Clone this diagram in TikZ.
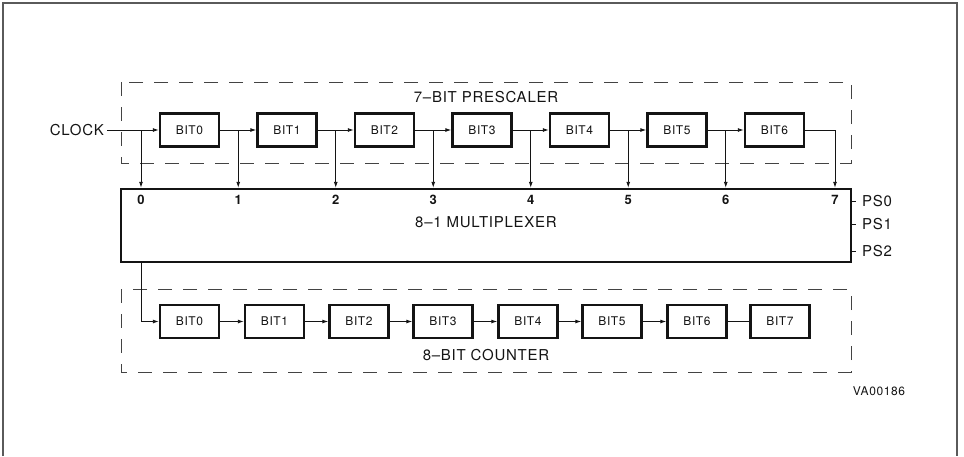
\documentclass[tikz,border=0pt]{standalone}
\usepackage{fontspec}
\setmainfont{TeX Gyre Heros}[LetterSpace=5]
\usetikzlibrary{arrows.meta,calc}
\definecolor{ink}{RGB}{20,20,20}
\definecolor{frame}{RGB}{90,90,90}

\begin{document}
\begin{tikzpicture}[
  x=1pt, y=-1pt,
  bitbox/.style={
    draw=ink, line width=2.4pt, fill=white,
    minimum width=59pt, minimum height=33pt, inner sep=0pt,
    font=\fontsize{12}{14}\selectfont, text=ink
  },
  muxbox/.style={
    draw=ink, line width=2.4pt,
    minimum width=730pt, minimum height=73pt, inner sep=0pt
  },
  group/.style={draw=ink!80, line width=0.9pt, dash pattern=on 14pt off 11pt},
  title/.style={font=\fontsize{15}{17}\selectfont, text=ink},
  muxin/.style={font=\bfseries\fontsize{13}{15}\selectfont, text=ink, inner sep=0pt},
  sel/.style={anchor=west, font=\fontsize{15}{17}\selectfont, text=ink, inner sep=0pt, xshift=9pt},
  wire/.style={draw=ink, line width=0.9pt},
  feed/.style={wire, -{Latex[length=6pt,width=4pt]}}
]
\useasboundingbox (0,0) rectangle (964,456);

% Page frame (bottom edge falls outside the scan).
\draw[frame, line width=1.2pt] (3,456) -- (3,3) -- (957,3) -- (957,456);

% Dashed group outlines.
\draw[group] (121,82) rectangle (851,163);
\draw[group] (121,289) rectangle (851,372);
\node[title] (prelabel) at (486,97) {7--BIT PRESCALER};
\node[title] (cntlabel) at (486,355) {8--BIT COUNTER};

% Prescaler chain.
\node[font=\fontsize{15}{17}\selectfont, text=ink, anchor=east, inner sep=0pt]
  (clock) at (104,130) {CLOCK};
\node[bitbox] (p0) at (189.5,130) {BIT0};
\node[bitbox] (p1) at (287,130) {BIT1};
\node[bitbox] (p2) at (384.5,130) {BIT2};
\node[bitbox] (p3) at (482,130) {BIT3};
\node[bitbox] (p4) at (579.5,130) {BIT4};
\node[bitbox] (p5) at (677,130) {BIT5};
\node[bitbox] (p6) at (774.5,130) {BIT6};

% Multiplexer.
\node[muxbox] (mux) at (486,225.5) {};
\node[font=\fontsize{15}{17}\selectfont, text=ink] (muxlabel) at (486,222) {8--1 MULTIPLEXER};

% Tap points feeding the multiplexer inputs.
\coordinate (t0) at (141,130);
\coordinate (t1) at ($(p0.east)!0.5!(p1.west)$);
\coordinate (t2) at ($(p1.east)!0.5!(p2.west)$);
\coordinate (t3) at ($(p2.east)!0.5!(p3.west)$);
\coordinate (t4) at ($(p3.east)!0.5!(p4.west)$);
\coordinate (t5) at ($(p4.east)!0.5!(p5.west)$);
\coordinate (t6) at ($(p5.east)!0.5!(p6.west)$);
\coordinate (t7) at (835,130);

\draw[wire] ([xshift=3pt]clock.east) -- (t0);
\draw[feed] (t0) -- (p0.west);
\draw[feed] (p0.east) -- (p1.west);
\draw[feed] (p1.east) -- (p2.west);
\draw[feed] (p2.east) -- (p3.west);
\draw[feed] (p3.east) -- (p4.west);
\draw[feed] (p4.east) -- (p5.west);
\draw[feed] (p5.east) -- (p6.west);
\draw[feed] (p6.east) -| (t7 |- mux.north);

\draw[feed] (t0) -- (t0 |- mux.north);
\draw[feed] (t1) -- (t1 |- mux.north);
\draw[feed] (t2) -- (t2 |- mux.north);
\draw[feed] (t3) -- (t3 |- mux.north);
\draw[feed] (t4) -- (t4 |- mux.north);
\draw[feed] (t5) -- (t5 |- mux.north);
\draw[feed] (t6) -- (t6 |- mux.north);

\node[muxin] (m0) at ($(t0 |- mux.north)+(0,12)$) {0};
\node[muxin] (m1) at ($(t1 |- mux.north)+(0,12)$) {1};
\node[muxin] (m2) at ($(t2 |- mux.north)+(0,12)$) {2};
\node[muxin] (m3) at ($(t3 |- mux.north)+(0,12)$) {3};
\node[muxin] (m4) at ($(t4 |- mux.north)+(0,12)$) {4};
\node[muxin] (m5) at ($(t5 |- mux.north)+(0,12)$) {5};
\node[muxin] (m6) at ($(t6 |- mux.north)+(0,12)$) {6};
\node[muxin] (m7) at ($(t7 |- mux.north)+(0,12)$) {7};

% Select lines.
\node[sel] (ps0) at (853,201) {PS0};
\node[sel] (ps1) at (853,224) {PS1};
\node[sel] (ps2) at (853,251) {PS2};
\draw[wire] (mux.east |- ps0.west) -- ([xshift=-6pt]ps0.west);
\draw[wire] (mux.east |- ps1.west) -- ([xshift=-6pt]ps1.west);
\draw[wire] (mux.east |- ps2.west) -- ([xshift=-6pt]ps2.west);

% Counter chain.
\node[bitbox] (c0) at (189.5,321.5) {BIT0};
\node[bitbox] (c1) at (274.5,321.5) {BIT1};
\node[bitbox] (c2) at (359,321.5) {BIT2};
\node[bitbox] (c3) at (443,321.5) {BIT3};
\node[bitbox] (c4) at (528,321.5) {BIT4};
\node[bitbox] (c5) at (612,321.5) {BIT5};
\node[bitbox] (c6) at (697,321.5) {BIT6};
\node[bitbox] (c7) at (780,321.5) {BIT7};

\draw[feed] (t0 |- mux.south) |- (c0.west);
\draw[feed] (c0.east) -- (c1.west);
\draw[feed] (c1.east) -- (c2.west);
\draw[feed] (c2.east) -- (c3.west);
\draw[feed] (c3.east) -- (c4.west);
\draw[feed] (c4.east) -- (c5.west);
\draw[feed] (c5.east) -- (c6.west);
\draw[wire] (c6.east) -- (c7.west);

\node[font=\fontsize{12}{14}\selectfont, text=ink] (figid) at (879,391) {VA00186};
\end{tikzpicture}
\end{document}
